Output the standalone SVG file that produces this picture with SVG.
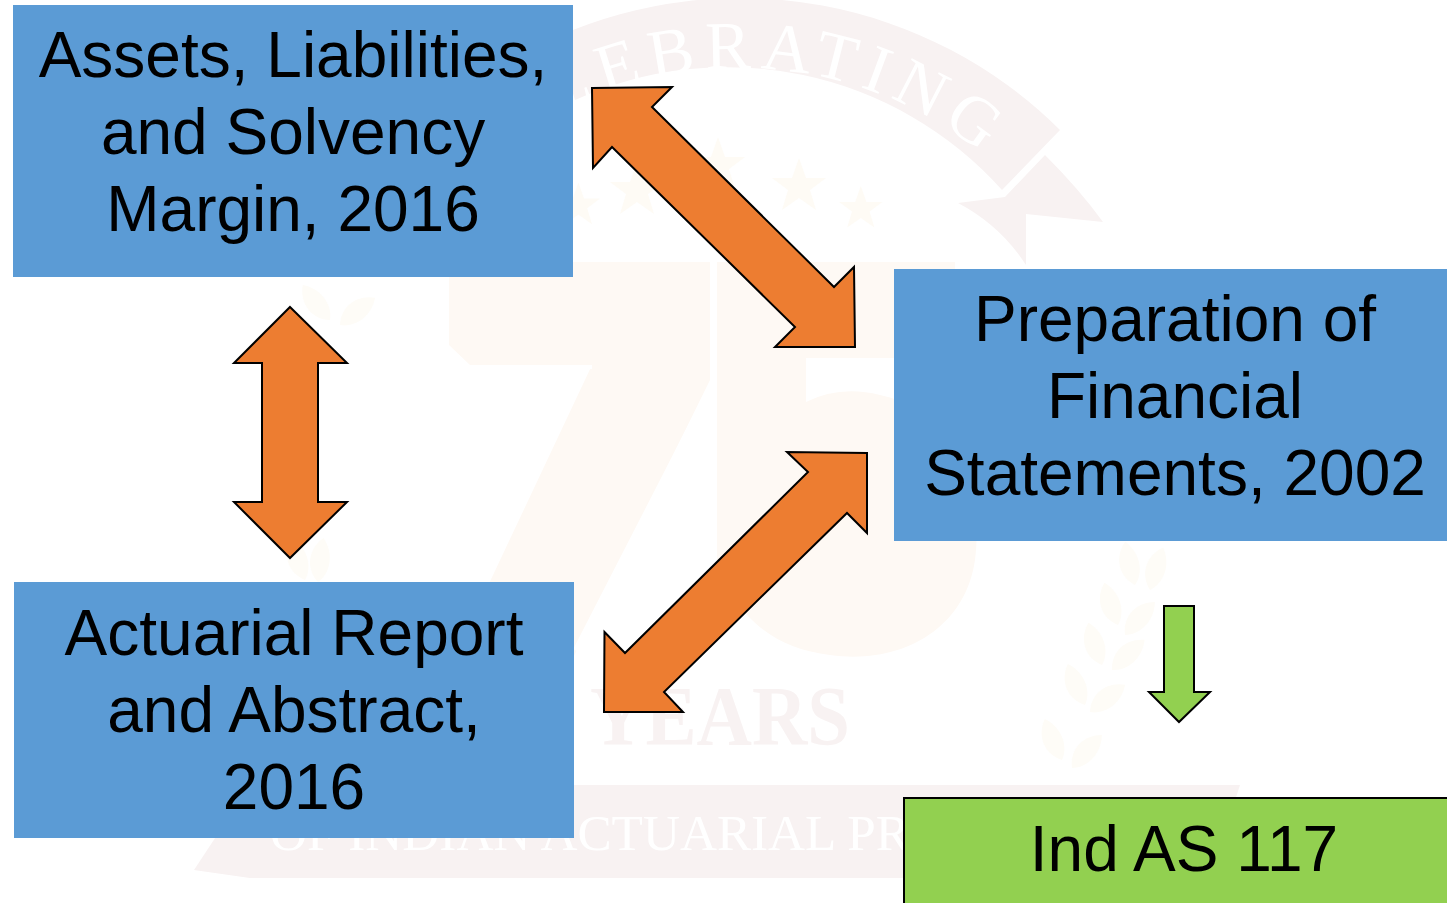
<svg xmlns="http://www.w3.org/2000/svg" width="1447" height="903" viewBox="0 0 1447 903">
<style>
.box{fill:#5B9BD5}
.lbl{font-family:"Liberation Sans",Arial,sans-serif;font-size:64px;fill:#000;text-anchor:middle}
.arr{fill:#ED7D31;stroke:#000;stroke-width:2;stroke-linejoin:miter}
.warm{fill:#FEF9F4}
.star{fill:#FEFBF5}
.pink{fill:#F8F2F2}
.leaf{fill:#FEFCF7}
.wm{font-family:"Liberation Serif","Times New Roman",serif}
</style>
<defs>
<path id="arc" d="M 553 118 A 382 382 0 0 1 1030 200"/>
<path id="lf" d="M0 0C-16 -10 -18 -30 -6 -44C8 -32 10 -12 0 0Z"/>
<path id="st" d="M0 -28L7 -8L27 -8L11 4L17 24L0 12L-17 24L-11 4L-27 -8L-7 -8Z"/>
</defs>
<rect width="1447" height="903" fill="#fff"/>
<g id="watermark">
<path class="pink" d="M556 37A454 454 0 0 1 1060 130L1002 190A369 369 0 0 0 575 100Z"/>
<path class="pink" d="M1045 155Q1080 190 1103 222L1026 214L1026 265Q1000 225 958 203L1005 197Z"/>
<text class="wm" font-size="68" fill="#fff" letter-spacing="9"><textPath href="#arc" startOffset="6">LEBRATING</textPath></text>
<use href="#st" x="718" y="165" class="star"/>
<use href="#st" x="799" y="186" class="star"/>
<use href="#st" x="861" y="208" class="star" transform="translate(172 42) scale(.8)"/>
<use href="#st" x="637" y="190" class="star"/>
<use href="#st" x="578" y="205" class="star" transform="translate(116 41) scale(.8)"/>
<path class="warm" d="M449 262H710V380L572 660L486 590L592 365H470L449 345Z"/>
<path d="M460 367H592M711 385L575 650" fill="none" stroke="#fff" stroke-width="4"/>
<path class="warm" d="M717 262H955V358H806V402Q840 385 880 395C950 410 985 480 975 560C965 630 900 665 830 655C790 650 760 635 735 600L717 560Z"/>
<text class="wm pink" x="590" y="745" font-size="84" textLength="260" lengthAdjust="spacingAndGlyphs" font-weight="bold">YEARS</text>
<path class="pink" d="M194 870L250 785H1240L1210 878H250Z"/>
<text class="wm" x="270" y="850" font-size="50" fill="#fff" textLength="640" lengthAdjust="spacingAndGlyphs">OF INDIAN ACTUARIAL PR</text>
<g class="leaf">
<use href="#lf" transform="translate(1135 585) rotate(-5)"/><use href="#lf" transform="translate(1150 590) rotate(25)"/>
<use href="#lf" transform="translate(1118 625) rotate(-10)"/><use href="#lf" transform="translate(1125 635) rotate(50)"/>
<use href="#lf" transform="translate(1102 665) rotate(-10)"/><use href="#lf" transform="translate(1112 670) rotate(55)"/>
<use href="#lf" transform="translate(1085 705) rotate(-15)"/><use href="#lf" transform="translate(1090 712) rotate(60)"/>
<use href="#lf" transform="translate(1062 760) rotate(-15)"/><use href="#lf" transform="translate(1072 768) rotate(50)"/>
<use href="#lf" transform="translate(330 320) rotate(-30)"/><use href="#lf" transform="translate(340 325) rotate(60)"/>
<use href="#lf" transform="translate(305 580) rotate(-10)"/><use href="#lf" transform="translate(318 582) rotate(15)"/>
</g>
</g>
<g id="connectors">
<polygon id="arrow-assets-statements" class="arr" points="592,88 672,87 652,107 834,287 854,267 855,347 775,347 795,327 612,147 593,168"/>
<polygon id="arrow-actuarial-statements" class="arr" points="867,453 787,452 808,472 625,653 604.5,632 604,712 683,712 664,692 847,513 867,533"/>
<polygon id="arrow-assets-actuarial" class="arr" points="290,307 347,363 318,363 318,502 347,502 290,558 234,502 262,502 262,363 234,363"/>
<polygon id="arrow-statements-indas" points="1164,606 1194,606 1194,692 1210,692 1179,722 1149,692 1164,692" fill="#92D050" stroke="#000" stroke-width="2"/>
</g>
<g id="node-assets">
<rect class="box" x="13" y="5" width="560" height="272"/>
<text class="lbl" x="293" y="77">Assets, Liabilities,</text>
<text class="lbl" x="293" y="154">and Solvency</text>
<text class="lbl" x="293" y="231">Margin, 2016</text>
</g>
<g id="node-statements">
<rect class="box" x="894" y="269" width="553" height="272"/>
<text class="lbl" x="1175" y="341">Preparation of</text>
<text class="lbl" x="1175" y="418">Financial</text>
<text class="lbl" x="1175" y="495">Statements, 2002</text>
</g>
<g id="node-actuarial">
<rect class="box" x="14" y="582" width="560" height="256"/>
<text class="lbl" x="294" y="655">Actuarial Report</text>
<text class="lbl" x="294" y="732">and Abstract,</text>
<text class="lbl" x="294" y="809">2016</text>
</g>
<g id="node-indas">
<rect x="904" y="798" width="560" height="120" fill="#92D050" stroke="#000" stroke-width="2"/>
<text class="lbl" x="1184" y="871">Ind AS 117</text>
</g>
</svg>
